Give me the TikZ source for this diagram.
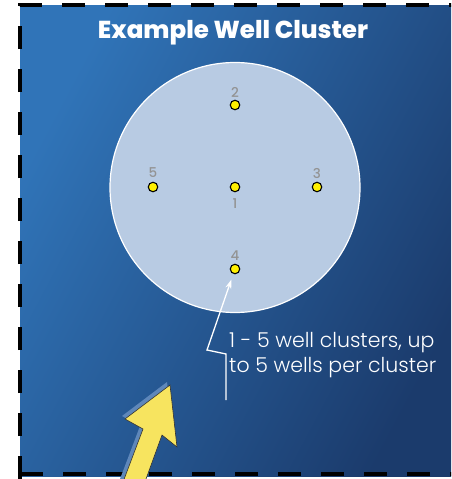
\documentclass[tikz,border=0pt]{standalone}
\usepackage{fontspec}
\setmainfont{Poppins}
\newfontfamily\poplight{Poppins Light}
\newfontfamily\popxb{Poppins ExtraBold}
\newfontfamily\popmed{Poppins Medium}
\usetikzlibrary{arrows.meta}
\definecolor{bgA}{HTML}{3074B8}
\definecolor{bgB}{HTML}{1B3B6C}
\definecolor{disc}{HTML}{B8CBE3}
\definecolor{lbl}{HTML}{939393}
\definecolor{welly}{HTML}{FFF000}
\definecolor{arry}{HTML}{F7E45F}
\definecolor{arrs}{HTML}{5E87BA}
\tikzset{
  well/.style={circle,fill=welly,draw=black,line width=1.1pt,minimum size=9.5pt,inner sep=0pt},
  wlabel/.style={text=lbl,font=\popmed\fontsize{13.5}{13.5}\selectfont,inner sep=0pt},
  frame/.style={line width=4.5pt,dash pattern=on 23pt off 20pt},
  callout/.style={draw=white,line width=1.3pt,-{Stealth[length=9pt,width=6pt]}}
}
\begin{document}
\begin{tikzpicture}[x=1pt,y=-1pt]
\useasboundingbox (0,0) rectangle (451,479);
\begin{scope}
\clip (0,0) rectangle (451,479);
\shade[top color=bgA,bottom color=bgB,shading angle=62] (20,5) rectangle (460,476);
\draw[frame] (20,479) -- (20,5) -- (460,5);
\draw[frame] (20,474) -- (460,474);
% yellow arrow
\coordinate (ytip) at (170,385);
\fill[arrs,shift={(-3pt,3pt)}] (170,385) -- (125,419) -- (143,429) -- (120,490) -- (142,490) -- (162,435) -- (177,447) -- cycle;
\filldraw[fill=arry,draw=black!80,line width=0.6pt] (ytip) -- (125,419) -- (143,429) -- (120,490) -- (142,490) -- (162,435) -- (177,447) -- cycle;
\end{scope}
\node[text=white,anchor=base,inner sep=0pt,font=\popxb\fontsize{24.5}{24.5}\selectfont] (title) at (233,38) {Example Well Cluster};
\node[circle,fill=disc,draw=white,line width=1.2pt,minimum size=250pt,inner sep=0pt] (cl) at (235,187.5) {};
\node[well] (w1) at (235,187) {};
\node[well] (w2) at (235,105) {};
\node[well] (w3) at (317,187) {};
\node[well] (w4) at (235,269) {};
\node[well] (w5) at (153,187) {};
\node[wlabel] (l2) at (235,92) {2};
\node[wlabel] (l1) at (235,204) {1};
\node[wlabel] (l3) at (317,173) {3};
\node[wlabel] (l4) at (235,256) {4};
\node[wlabel] (l5) at (153,173) {5};
\coordinate (c1) at (226,400);
\coordinate (c2) at (226,354);
\coordinate (c3) at (207,350);
\draw[callout,shorten >=6pt] (c1) -- (c2) -- (c3) -- (w4);
\node[anchor=base west,align=left,text=white,inner sep=0pt,font=\poplight\fontsize{20.5}{25}\selectfont] (txt) at (229,372) {1 - 5 well clusters, up\\to 5 wells per cluster};
\end{tikzpicture}
\end{document}
